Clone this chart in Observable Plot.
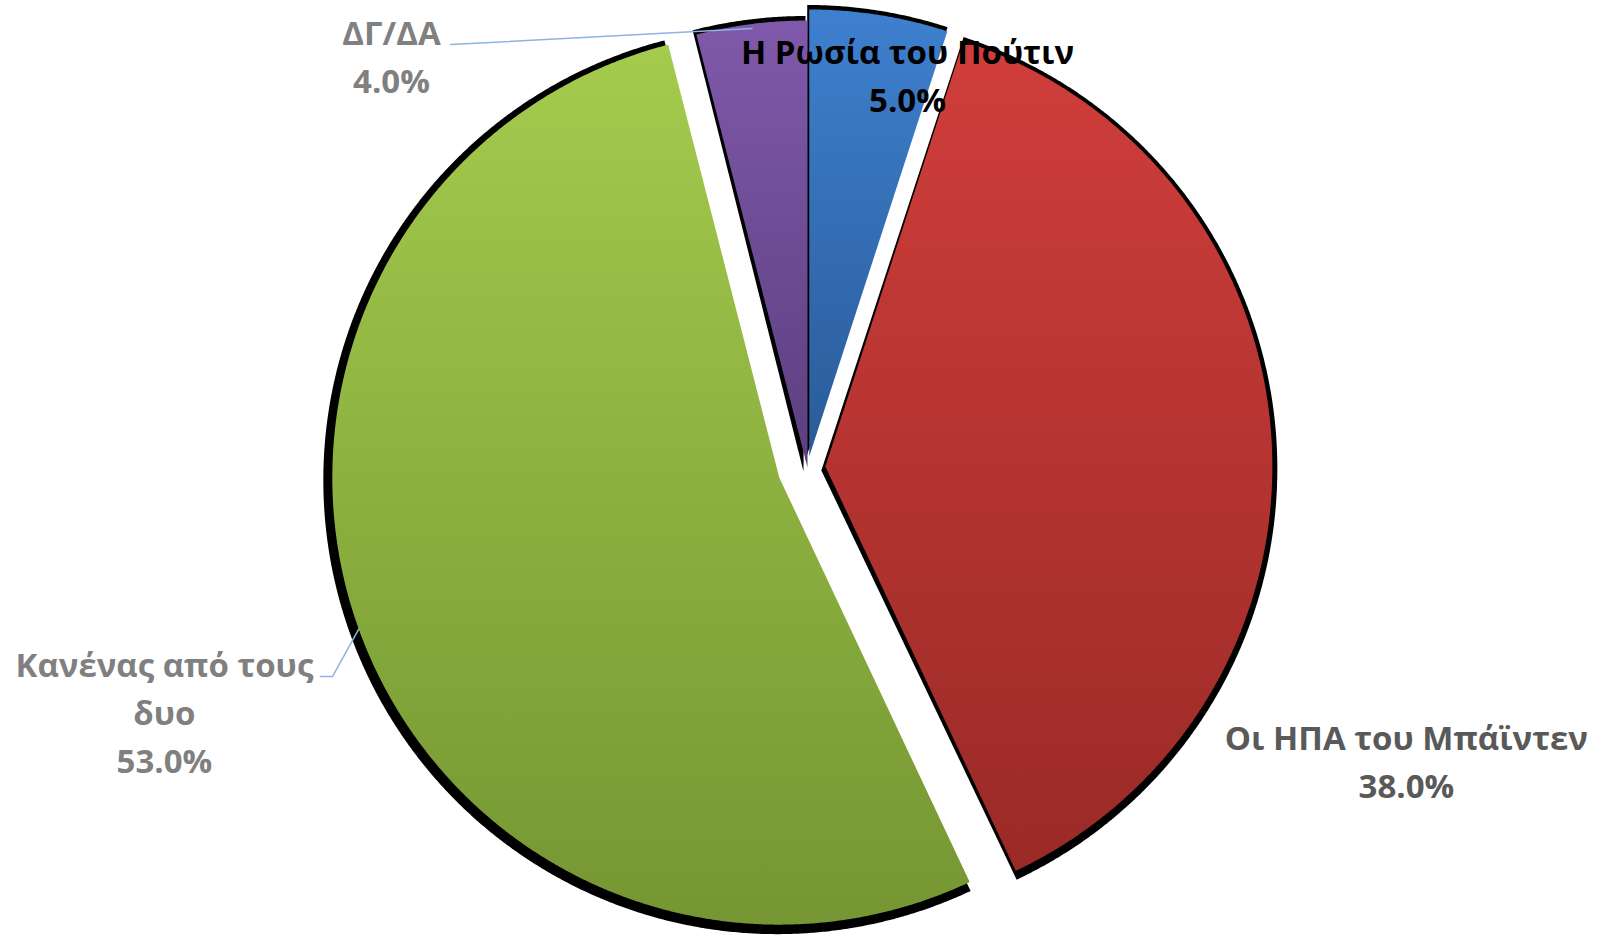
<!DOCTYPE html>
<html><head><meta charset="utf-8">
<script src="https://cdn.jsdelivr.net/npm/d3@7"></script>
<script src="https://cdn.jsdelivr.net/npm/@observablehq/plot@0.6"></script>
<style>html,body{margin:0;padding:0;background:#fff;overflow:hidden}</style>
</head><body><div id="chart"></div>
<script>
// ---- data ----
const categories = ["Η Ρωσία του Πούτιν", "Οι ΗΠΑ του Μπάϊντεν", "Κανένας από τους δυο", "ΔΓ/ΔΑ"];
const values = [5.0, 38.0, 53.0, 4.0];
const labelLines = [["Η Ρωσία του Πούτιν"], ["Οι ΗΠΑ του Μπάϊντεν"], ["Κανένας από τους", "δυο"], ["ΔΓ/ΔΑ"]];

// ---- layout & style ----
const W = 1602, H = 938, CX = 807, CY = 467, R = 447;
const explode = [0.025, 0.04, 0.067, 0];             // in radius units, along slice bisector
const gradStops = [["#3e80cf", "#2a5b98"], ["#d03e3b", "#9a2a27"], ["#a4cb4d", "#759632"], ["#8059aa", "#5b3f7f"]];
const labelColor = ["#000000", "#595959", "#808080", "#808080"];
const labelPolar = [[14.31, 0.905], [116.18, 1.493], [249.1, 1.540], [314.62, 1.3075]]; // [deg, radius units]
const leaderPolar = [null, null, [[246.77, 1.186], [246.25, 1.161]], [[319.84, 1.238]]];
const leaderEndR = [null, null, 1.0, 0.99];
const shadowDx = -2 / R, shadowDy = -2.5 / R, shadowGrow = 7 / R;   // arc part of shadow
const apexDx = -4 / R, apexDy = -4 / R;                              // apex of shadow
const FONT = "'Open Sans','Noto Sans',sans-serif";
const FS = 33;

const pie = d3.pie().sort(null).value(d => d)(values);
const rad = d => d * Math.PI / 180;
const pt = (a, r, ox = 0, oy = 0) => ({x: ox + r * Math.sin(a), y: oy + r * Math.cos(a)});

const slices = [], shadows = [];
pie.forEach((p, i) => {
  const mid = (p.startAngle + p.endAngle) / 2;
  const c = pt(mid, explode[i]);
  const n = Math.max(8, Math.ceil((p.endAngle - p.startAngle) / 0.005));
  const poly = [{...c, i}], sh = [{x: c.x + apexDx, y: c.y + apexDy, i}];
  for (let k = 0; k <= n; k++) {
    const a = p.startAngle + (p.endAngle - p.startAngle) * k / n;
    poly.push({...pt(a, 1, c.x, c.y), i});
    sh.push({...pt(a, 1 + shadowGrow, c.x + shadowDx, c.y + shadowDy), i});
  }
  poly.push({...c, i}); sh.push({x: c.x + apexDx, y: c.y + apexDy, i});
  slices.push(poly); shadows.push(sh);
});

const labels = pie.map((p, i) => {
  const [ang, r] = labelPolar[i];
  return {...pt(rad(ang), r), text: labelLines[i].join("\n") + "\n" + values[i].toFixed(1) + "%", color: labelColor[i]};
});

const leaders = [];
pie.forEach((p, i) => {
  if (!leaderPolar[i]) return;
  const mid = (p.startAngle + p.endAngle) / 2;
  const c = pt(mid, explode[i]);
  const line = leaderPolar[i].map(([a, r]) => pt(rad(a), r));
  line.push(pt(mid, leaderEndR[i], c.x, c.y));
  leaders.push(line);
});

const marks = [];
shadows.forEach(s => marks.push(Plot.line(s, {x: "x", y: "y", fill: "#000", stroke: "none"})));
slices.forEach((s, i) => marks.push(Plot.line(s, {x: "x", y: "y", fill: `url(#grad${i})`, stroke: "none"})));
leaders.forEach(l => marks.push(Plot.line(l, {x: "x", y: "y", stroke: "#8db3e2", strokeWidth: 1.5})));
labels.forEach(l => marks.push(Plot.text([l], {
  x: "x", y: "y", text: "text", fill: l.color, fontSize: FS, fontWeight: "bold",
  fontFamily: FONT, lineHeight: 1.455, textAnchor: "middle", dy: -3
})));

const chart = Plot.plot({
  width: W, height: H, margin: 0,
  style: {background: "#fff", fontFamily: FONT},
  x: {domain: [-CX / R, (W - CX) / R], range: [0, W], axis: null},
  y: {domain: [(CY - H) / R, CY / R], range: [H, 0], axis: null},
  marks
});

const defs = d3.select(chart).insert("defs", ":first-child");
gradStops.forEach((g, i) => {
  const lg = defs.append("linearGradient").attr("id", `grad${i}`).attr("x1", 0).attr("y1", 0).attr("x2", 0).attr("y2", 1);
  lg.append("stop").attr("offset", "0%").attr("stop-color", g[0]);
  lg.append("stop").attr("offset", "100%").attr("stop-color", g[1]);
});
document.getElementById("chart").append(chart);
</script>
</body></html>
